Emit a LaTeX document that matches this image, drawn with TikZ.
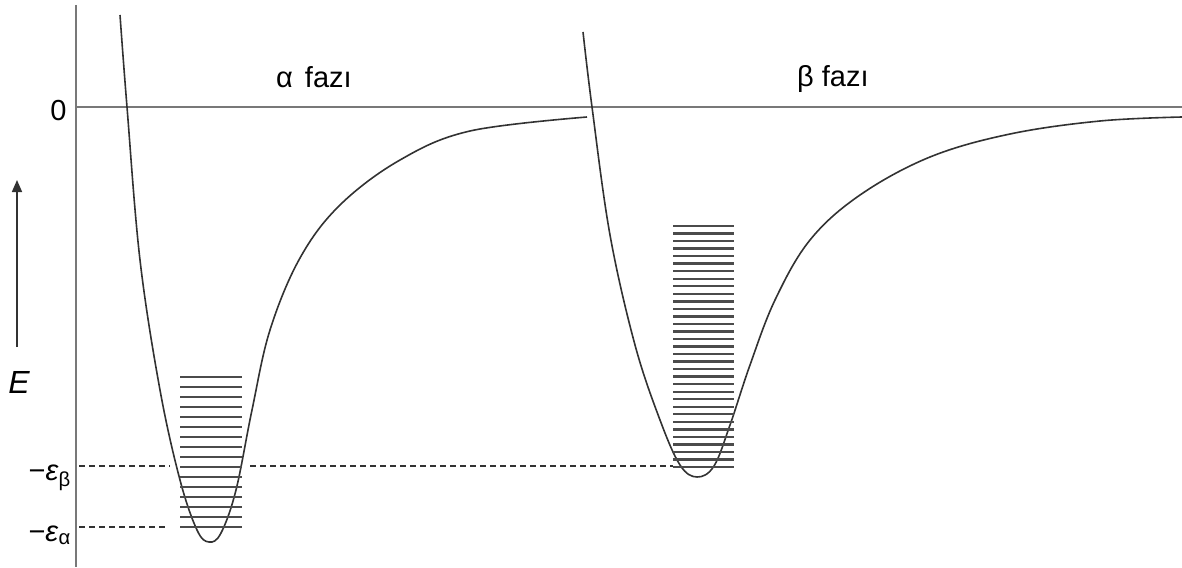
\documentclass[tikz,border=0pt]{standalone}
\usepackage{fontspec}
\setmainfont{Liberation Sans}
\usepackage{tikz}
\usetikzlibrary{arrows.meta}
\definecolor{cwell}{RGB}{50,50,50}
\definecolor{caxis}{RGB}{120,120,120}
\definecolor{clevel}{RGB}{75,75,75}

\begin{document}
\begin{tikzpicture}[x=1pt,y=-1pt,
          every node/.style={font=\fontsize{29}{33}\selectfont, inner sep=0pt},
          axis/.style={draw=caxis, line width=2.8pt},
          well/.style={draw=cwell, line width=1.6pt, line join=round},
          level/.style={draw=clevel, line width=2.4pt},
          refline/.style={draw=cwell, line width=1.8pt, dash pattern=on 6pt off 4pt},
          up/.style={-{Triangle[length=12pt,width=10pt]}, line width=1.6pt, draw=cwell},
        ]

          \useasboundingbox (0,0) rectangle (1182,567);

          % ── Axes ──────────────────────────────────────────────
          \draw[axis] (76,5) -- (76,567);
          \draw[axis] (76,107) -- (1182,107);
          \node[anchor=base] (zero) at (58.5,121) {0};

          \coordinate (Efoot) at (17,347);
          \coordinate (Ehead) at (17,180);
          \draw[up] (Efoot) -- (Ehead);
          \node[anchor=base, font=\fontsize{32}{36}\selectfont\itshape] (Elab) at (19,393) {E};

          % ── Reference energies ───────────────────────────────
          \draw[refline] (79,466) -- (170,466);
          \draw[refline] (250,466) -- (673,466);
          \draw[refline] (79,527) -- (168,527);
          \node[anchor=base east] (epsB) at (71,480) {−\textit{ε}\textsubscript{β}};
          \node[anchor=base east] (epsA) at (71,541) {−\textit{ε}\textsubscript{α}};

          % ── α well ───────────────────────────────────────────
          \draw[well] plot[smooth, tension=0.6] coordinates {
            (120,15) (127,107) (140,260) (160,390) (180,480) (197,530)
            (209,542) (221,533) (236,490) (252,410) (270,330) (300,258)
            (340,205) (400,160) (470,131) (587,117)};
          \foreach \k in {0,...,15}
            \draw[level] (180,{527-10*\k}) -- (242,{527-10*\k});

          % ── β well ───────────────────────────────────────────
          \draw[well] plot[smooth, tension=0.6] coordinates {
            (583,32) (592,107) (610,235) (635,345) (660,420) (680,465)
            (697,477) (714,466) (730,425) (750,365) (775,300) (810,240)
            (860,195) (930,157) (1010,134) (1100,121) (1182,117)};
          \foreach \k in {0,...,32}
            \draw[level] (673,{467-7.53*\k}) -- (734,{467-7.53*\k});

          % ── Phase labels ─────────────────────────────────────
          \node[anchor=base west] (phaseA) at (276,88) {α\hspace{12pt}fazı};
          \node[anchor=base west] (phaseB) at (797,87) {β fazı};

        \end{tikzpicture}
\end{document}
